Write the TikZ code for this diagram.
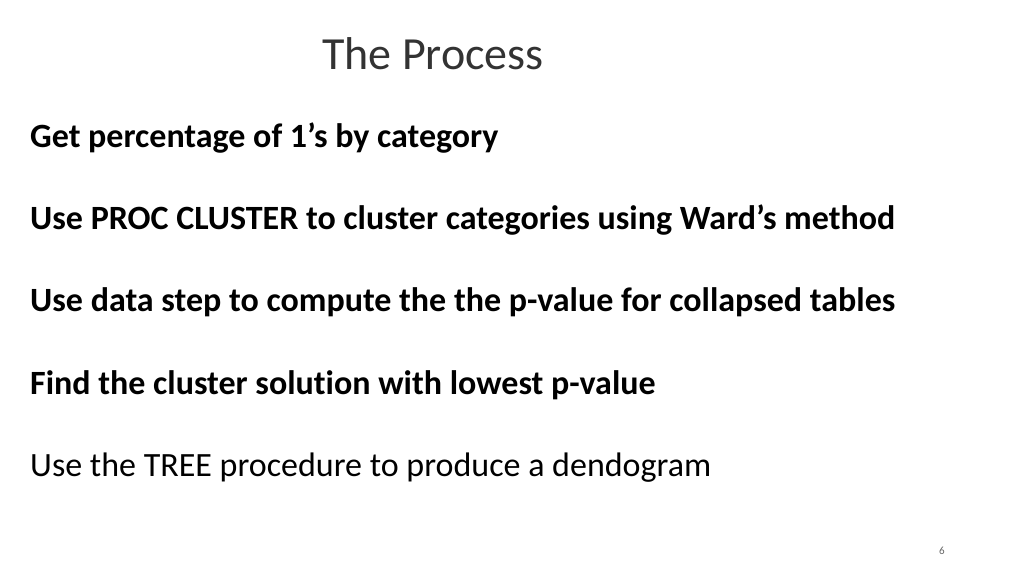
\documentclass[tikz,border=0pt]{standalone}
\usepackage{fontspec}
\setmainfont[Ligatures=NoCommon]{Carlito}
\begin{document}
\begin{tikzpicture}[x=1pt,y=1pt,
  item/.style={anchor=base west,inner sep=0pt,font=\fontsize{34}{38}\selectfont\bfseries},
  plain/.style={anchor=base west,inner sep=0pt,font=\fontsize{34}{38}\selectfont}]
\useasboundingbox (0,0) rectangle (1024,576);
\node[anchor=base,inner sep=0pt,font=\fontsize{46}{50}\selectfont,text=black!80] (title) at (433,506) {The Process};
\node[item] (a) at (30,428) {Get percentage of 1’s by category};
\node[item] (b) at (30,346) {Use PROC CLUSTER to cluster categories using Ward’s method};
\node[item] (c) at (30,264) {Use data step to compute the the p-value for collapsed tables};
\node[item] (d) at (30,182) {Find the cluster solution with lowest p-value};
\node[plain] (e) at (30,100) {Use the TREE procedure to produce a dendogram};
\node[anchor=base,inner sep=0pt,font=\fontsize{11}{12}\selectfont,text=black!60] (p) at (942,22) {6};
\end{tikzpicture}
\end{document}
